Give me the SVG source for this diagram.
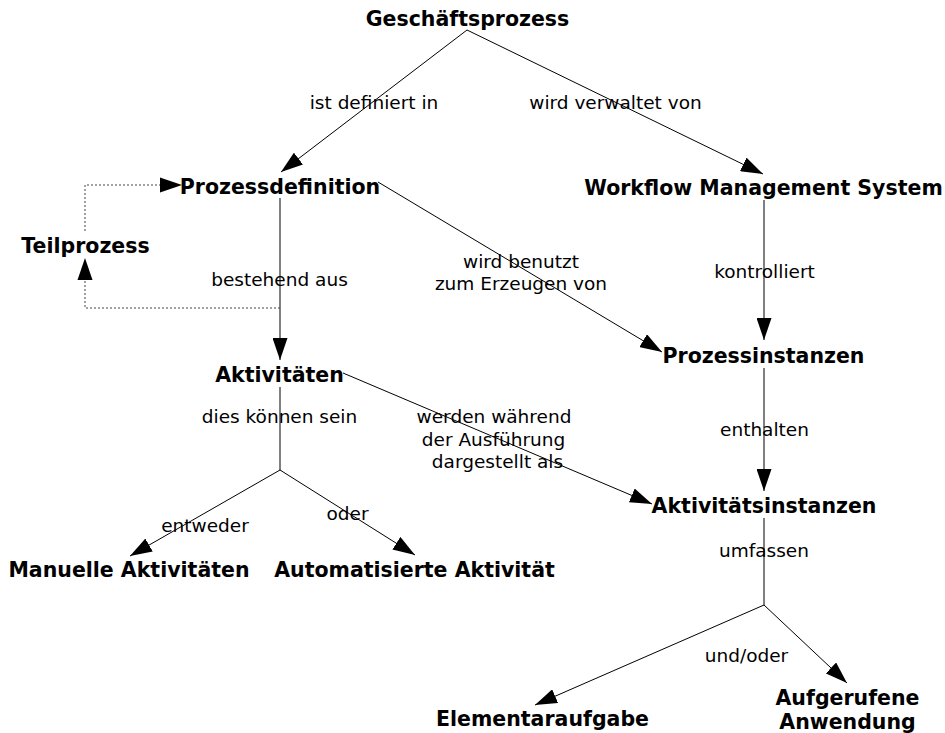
<svg xmlns="http://www.w3.org/2000/svg" width="945" height="733" viewBox="0 0 945 733">
<style>
.n{font-family:"DejaVu Sans",Verdana,sans-serif;font-weight:bold;font-size:20.5px;fill:#000;text-anchor:middle}
.l{font-family:"DejaVu Sans",Verdana,sans-serif;font-size:18.5px;fill:#000;text-anchor:middle}
.c{stroke:#000;stroke-width:1;fill:none}
.d{stroke:#444;stroke-width:1;fill:none;stroke-dasharray:2,2}
</style>
<defs>
<marker id="a" markerUnits="userSpaceOnUse" markerWidth="22" markerHeight="15" refX="22" refY="7.5" orient="auto">
<path d="M0,0 L22,7.5 L0,15 Z" fill="#000"/>
</marker>
</defs>
<rect width="945" height="733" fill="#fff"/>
<g id="connectors">
<line class="c" x1="467" y1="30" x2="281" y2="172" marker-end="url(#a)"/>
<line class="c" x1="467" y1="30" x2="763" y2="174" marker-end="url(#a)"/>
<line class="c" x1="280" y1="198" x2="280" y2="360" marker-end="url(#a)"/>
<line class="c" x1="378" y1="182" x2="662" y2="352" marker-end="url(#a)"/>
<line class="c" x1="764" y1="200" x2="764" y2="340" marker-end="url(#a)"/>
<line class="c" x1="764" y1="368" x2="764" y2="491" marker-end="url(#a)"/>
<line class="c" x1="343" y1="373" x2="652" y2="504" marker-end="url(#a)"/>
<line class="c" x1="280" y1="387" x2="280" y2="470"/>
<line class="c" x1="280" y1="470" x2="130" y2="556" marker-end="url(#a)"/>
<line class="c" x1="280" y1="470" x2="415" y2="555" marker-end="url(#a)"/>
<line class="c" x1="764" y1="518" x2="764" y2="605"/>
<line class="c" x1="764" y1="605" x2="535" y2="705" marker-end="url(#a)"/>
<line class="c" x1="764" y1="605" x2="847" y2="683" marker-end="url(#a)"/>
<polyline class="d" points="280,308 85,308 85,280"/>
<path d="M85,258 L92.5,280 L77.5,280 Z" fill="#000"/>
<polyline class="d" points="85,231 85,185 160,185"/>
<path d="M182,185 L160,177.5 L160,192.5 Z" fill="#000"/>
</g>
<g id="edge-labels">
<text class="l" x="374" y="109">ist definiert in</text>
<text class="l" x="615.5" y="109">wird verwaltet von</text>
<text class="l" x="279.5" y="286">bestehend aus</text>
<text class="l" x="521" y="268">wird benutzt</text>
<text class="l" x="521" y="290">zum Erzeugen von</text>
<text class="l" x="764.5" y="278">kontrolliert</text>
<text class="l" x="279.5" y="423">dies können sein</text>
<text class="l" x="494" y="423">werden während</text>
<text class="l" x="493.5" y="446">der Ausführung</text>
<text class="l" x="497.5" y="468">dargestellt als</text>
<text class="l" x="764.5" y="436">enthalten</text>
<text class="l" x="205" y="532">entweder</text>
<text class="l" x="347.5" y="520">oder</text>
<text class="l" x="764" y="557">umfassen</text>
<text class="l" x="746.5" y="662">und/oder</text>
</g>
<g id="n-geschaeftsprozess"><text class="n" x="467.5" y="26">Geschäftsprozess</text></g>
<g id="n-prozessdefinition"><text class="n" x="280" y="194">Prozessdefinition</text></g>
<g id="n-wms"><text class="n" x="763.5" y="195">Workflow Management System</text></g>
<g id="n-teilprozess"><text class="n" x="85.5" y="253">Teilprozess</text></g>
<g id="n-aktivitaeten"><text class="n" x="279.5" y="382">Aktivitäten</text></g>
<g id="n-prozessinstanzen"><text class="n" x="763.5" y="363">Prozessinstanzen</text></g>
<g id="n-aktivitaetsinstanzen"><text class="n" x="764" y="513">Aktivitätsinstanzen</text></g>
<g id="n-manuelle"><text class="n" x="129" y="577">Manuelle Aktivitäten</text></g>
<g id="n-automatisierte"><text class="n" x="414.5" y="577">Automatisierte Aktivität</text></g>
<g id="n-elementaraufgabe"><text class="n" x="542.5" y="726">Elementaraufgabe</text></g>
<g id="n-aufgerufene"><text class="n" x="847.5" y="705">Aufgerufene<tspan x="847.5" y="729">Anwendung</tspan></text></g>
</svg>
